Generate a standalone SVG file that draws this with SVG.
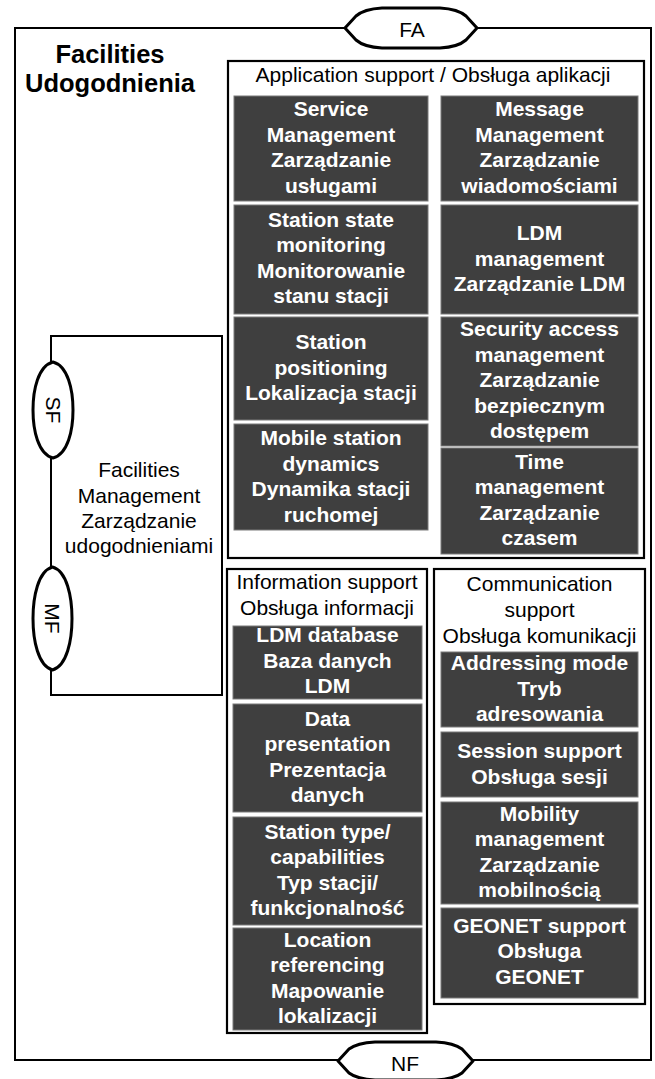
<svg xmlns="http://www.w3.org/2000/svg" width="655" height="1079" viewBox="0 0 655 1079">
<style>
.frame{fill:none;stroke:#000;stroke-width:2}
.grp{fill:#fff;stroke:#000;stroke-width:2.2}
.oval{fill:#fff;stroke:#000;stroke-width:3;stroke-linejoin:round}
.dark{fill:#3f3f3f;stroke:#7a7a7a;stroke-width:1}
.wt{font-family:"Liberation Sans",Arial,sans-serif;font-size:21px;font-weight:bold;fill:#fff;text-anchor:middle}
.bt{font-family:"Liberation Sans",Arial,sans-serif;font-size:21px;fill:#000;text-anchor:middle}
.title{font-family:"Liberation Sans",Arial,sans-serif;font-size:25.5px;font-weight:bold;fill:#000;text-anchor:middle}
.line{fill:none;stroke:#000;stroke-width:2}
</style>
<rect width="655" height="1079" fill="#fff"/>

<g id="connectors">
  <rect class="frame" x="15" y="28" width="636" height="1032"/>
  <polyline class="line" points="51,362 51,336 222,336 222,695 51,695 51,670"/>
  <line class="line" x1="51" y1="457" x2="51" y2="567"/>
</g>

<g id="facilities-title">
  <text class="title" x="110" y="63">Facilities</text>
  <text class="title" x="110" y="92">Udogodnienia</text>
</g>

<g id="FA">
  <path class="oval" d="M345,28 L356,16 Q364,9 382,8 L440,8 Q458,9 466,16 L477,28 L466,40 Q458,47 440,48 L382,48 Q364,47 356,40 Z"/>
  <text class="bt" x="412" y="37">FA</text>
</g>

<g id="NF">
  <path class="oval" d="M338,1061 L349,1049 Q357,1043 375,1042 L436,1042 Q454,1043 462,1049 L473,1061 L462,1073 Q454,1079 436,1080 L375,1080 Q357,1079 349,1073 Z"/>
  <text class="bt" x="405" y="1071">NF</text>
</g>

<g id="SF">
  <path class="oval" d="M53,362 C68,366 73,390 73,410 C73,430 68,454 53,458 C38,454 33,430 33,410 C33,390 38,366 53,362 Z"/>
  <text class="bt" transform="translate(53,410) rotate(90)" x="0" y="7.5">SF</text>
</g>

<g id="MF">
  <path class="oval" d="M52.5,567 C67,571 72,597 72,618.5 C72,640 67,666 52.5,670 C38,666 33,640 33,618.5 C33,597 38,571 52.5,567 Z"/>
  <text class="bt" transform="translate(52.5,618.5) rotate(90)" x="0" y="7.5">MF</text>
</g>

<g id="facilities-management">
  <text class="bt" x="139" y="477">Facilities</text>
  <text class="bt" x="139" y="502.5">Management</text>
  <text class="bt" x="139" y="528">Zarządzanie</text>
  <text class="bt" x="139" y="553">udogodnieniami</text>
</g>

<g id="application-support">
  <rect class="grp" x="228" y="61" width="416" height="497"/>
  <text class="bt" x="433" y="82">Application support / Obsługa aplikacji</text>
</g>

<g id="service-management">
  <rect class="dark" x="234" y="96" width="194" height="105"/>
  <text class="wt" x="331" y="116">Service</text>
  <text class="wt" x="331" y="141.5">Management</text>
  <text class="wt" x="331" y="167">Zarządzanie</text>
  <text class="wt" x="331" y="192.5">usługami</text>
</g>
<g id="station-state-monitoring">
  <rect class="dark" x="234" y="205" width="194" height="109"/>
  <text class="wt" x="331" y="226.5">Station state</text>
  <text class="wt" x="331" y="252">monitoring</text>
  <text class="wt" x="331" y="277.5">Monitorowanie</text>
  <text class="wt" x="331" y="303">stanu stacji</text>
</g>
<g id="station-positioning">
  <rect class="dark" x="234" y="317" width="194" height="103"/>
  <text class="wt" x="331" y="349">Station</text>
  <text class="wt" x="331" y="374.5">positioning</text>
  <text class="wt" x="331" y="400">Lokalizacja stacji</text>
</g>
<g id="mobile-station-dynamics">
  <rect class="dark" x="234" y="424" width="194" height="106"/>
  <text class="wt" x="331" y="445">Mobile station</text>
  <text class="wt" x="331" y="470.5">dynamics</text>
  <text class="wt" x="331" y="496">Dynamika stacji</text>
  <text class="wt" x="331" y="521.5">ruchomej</text>
</g>

<g id="message-management">
  <rect class="dark" x="441" y="96" width="197" height="105"/>
  <text class="wt" x="539.5" y="116">Message</text>
  <text class="wt" x="539.5" y="141.5">Management</text>
  <text class="wt" x="539.5" y="167">Zarządzanie</text>
  <text class="wt" x="539.5" y="192.5">wiadomościami</text>
</g>
<g id="ldm-management">
  <rect class="dark" x="441" y="205" width="197" height="109"/>
  <text class="wt" x="539.5" y="240">LDM</text>
  <text class="wt" x="539.5" y="265.5">management</text>
  <text class="wt" x="539.5" y="291">Zarządzanie LDM</text>
</g>
<g id="security-access-management">
  <rect class="dark" x="441" y="317" width="197" height="129"/>
  <text class="wt" x="539.5" y="336">Security access</text>
  <text class="wt" x="539.5" y="361.5">management</text>
  <text class="wt" x="539.5" y="387">Zarządzanie</text>
  <text class="wt" x="539.5" y="412.5">bezpiecznym</text>
  <text class="wt" x="539.5" y="438">dostępem</text>
</g>
<g id="time-management">
  <rect class="dark" x="441" y="448" width="197" height="106"/>
  <text class="wt" x="539.5" y="468.5">Time</text>
  <text class="wt" x="539.5" y="494">management</text>
  <text class="wt" x="539.5" y="519.5">Zarządzanie</text>
  <text class="wt" x="539.5" y="545">czasem</text>
</g>

<g id="information-support">
  <rect class="grp" x="227" y="569" width="200" height="464"/>
  <text class="bt" x="327" y="589">Information support</text>
  <text class="bt" x="327" y="615">Obsługa informacji</text>
</g>
<g id="ldm-database">
  <rect class="dark" x="233" y="626" width="189" height="73"/>
  <text class="wt" x="327.5" y="642">LDM database</text>
  <text class="wt" x="327.5" y="667.5">Baza danych</text>
  <text class="wt" x="327.5" y="693">LDM</text>
</g>
<g id="data-presentation">
  <rect class="dark" x="233" y="704" width="189" height="108"/>
  <text class="wt" x="327.5" y="725.5">Data</text>
  <text class="wt" x="327.5" y="751">presentation</text>
  <text class="wt" x="327.5" y="776.5">Prezentacja</text>
  <text class="wt" x="327.5" y="802">danych</text>
</g>
<g id="station-type-capabilities">
  <rect class="dark" x="233" y="817" width="189" height="108"/>
  <text class="wt" x="327.5" y="838.5">Station type/</text>
  <text class="wt" x="327.5" y="864">capabilities</text>
  <text class="wt" x="327.5" y="889.5">Typ stacji/</text>
  <text class="wt" x="327.5" y="915">funkcjonalność</text>
</g>
<g id="location-referencing">
  <rect class="dark" x="233" y="928" width="189" height="102"/>
  <text class="wt" x="327.5" y="946.5">Location</text>
  <text class="wt" x="327.5" y="972">referencing</text>
  <text class="wt" x="327.5" y="997.5">Mapowanie</text>
  <text class="wt" x="327.5" y="1023">lokalizacji</text>
</g>

<g id="communication-support">
  <rect class="grp" x="434" y="569" width="211" height="435"/>
  <text class="bt" x="539.5" y="591">Communication</text>
  <text class="bt" x="539.5" y="617">support</text>
  <text class="bt" x="539.5" y="643">Obsługa komunikacji</text>
</g>
<g id="addressing-mode">
  <rect class="dark" x="441" y="652" width="197" height="75"/>
  <text class="wt" x="539.5" y="670">Addressing mode</text>
  <text class="wt" x="539.5" y="695.5">Tryb</text>
  <text class="wt" x="539.5" y="721">adresowania</text>
</g>
<g id="session-support">
  <rect class="dark" x="441" y="732" width="197" height="65"/>
  <text class="wt" x="539.5" y="758">Session support</text>
  <text class="wt" x="539.5" y="783.5">Obsługa sesji</text>
</g>
<g id="mobility-management">
  <rect class="dark" x="441" y="802" width="197" height="102"/>
  <text class="wt" x="539.5" y="820.5">Mobility</text>
  <text class="wt" x="539.5" y="846">management</text>
  <text class="wt" x="539.5" y="871.5">Zarządzanie</text>
  <text class="wt" x="539.5" y="897">mobilnością</text>
</g>
<g id="geonet-support">
  <rect class="dark" x="441" y="908" width="197" height="90"/>
  <text class="wt" x="539.5" y="932.5">GEONET support</text>
  <text class="wt" x="539.5" y="958">Obsługa</text>
  <text class="wt" x="539.5" y="983.5">GEONET</text>
</g>
</svg>
